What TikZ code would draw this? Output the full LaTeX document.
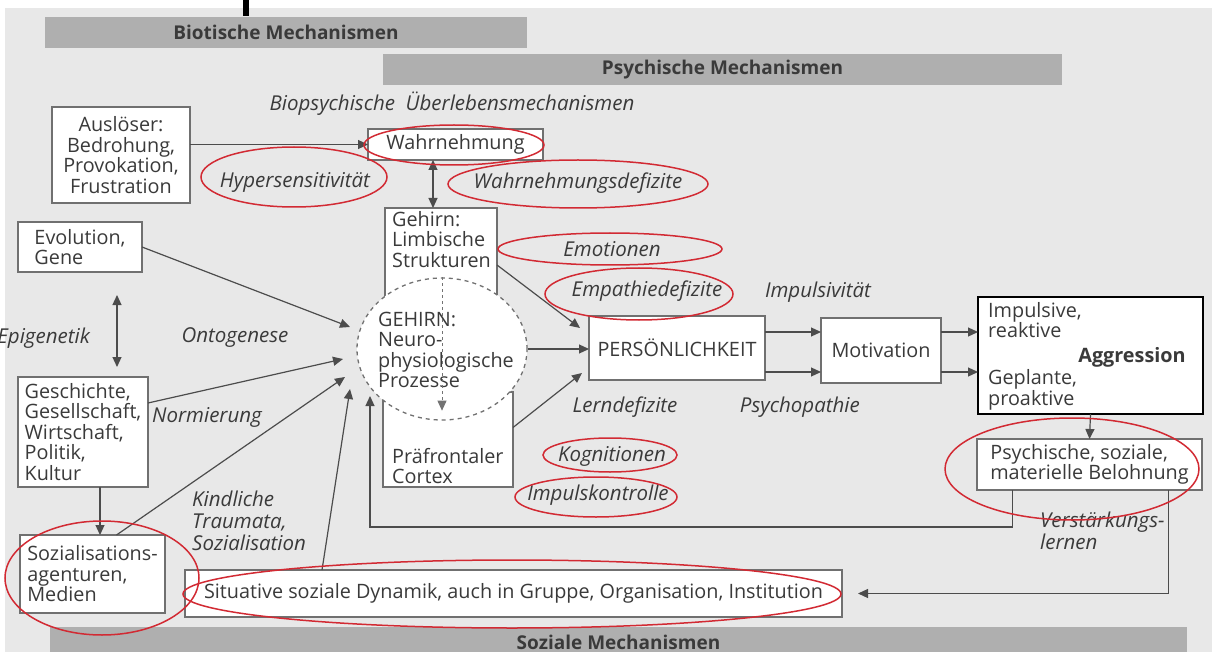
\documentclass[tikz,border=0pt]{standalone}
\usepackage{fontspec}
\setmainfont{Open Sans}
\usetikzlibrary{arrows.meta,positioning,shapes.geometric,calc}
\definecolor{bggray}{HTML}{E8E8E8}
\definecolor{bargray}{HTML}{AFAFAF}
\definecolor{boxgray}{HTML}{707070}
\definecolor{txtgray}{HTML}{3A3A3A}
\definecolor{ringred}{HTML}{D22A33}
\newcommand{\boxfont}{\fontsize{19.8}{20.5}\selectfont}
\newcommand{\labfont}{\fontsize{20.5}{22}\selectfont\itshape}
\newcommand{\barfont}{\fontsize{19}{20}\selectfont\bfseries}
\tikzset{
  box/.style   = {draw=boxgray, fill=white, line width=1.1pt, inner sep=3pt,
                  outer sep=0pt, text=txtgray, font=\boxfont},
  boxl/.style  = {box, align=left},
  txt/.style   = {inner sep=0pt, text=txtgray, font=\boxfont, align=left},
  lab/.style   = {inner sep=0pt, text=txtgray, font=\labfont, align=left},
  band/.style  = {fill=bargray, inner sep=0pt, outer sep=0pt, text=txtgray,
                  font=\barfont},
  ring/.style  = {ellipse, draw=ringred, line width=1.5pt, inner sep=0pt},
  brain/.style = {ellipse, draw=boxgray, fill=white, line width=1.3pt,
                  dash pattern=on 4pt off 4pt, inner sep=0pt},
  e/.style     = {-{Triangle[length=10pt,width=9pt]}, line width=1.2pt, draw=black!70},
  ee/.style    = {{Triangle[length=10pt,width=9pt]}-{Triangle[length=10pt,width=9pt]},
                  line width=1.2pt, draw=black!70}
}
\begin{document}
\begin{tikzpicture}[x=1pt, y=-1pt]
  \useasboundingbox (0,0) rectangle (1212,652);
  \fill[bggray] (5,8) rectangle (1212,652);
  \fill[black] (243,0) rectangle (249,16);

  % bands
  \node[band, minimum width=482pt, minimum height=31pt] (bio) at (286,32.5) {Biotische Mechanismen};
  \node[band, minimum width=679pt, minimum height=31pt] (psy) at (722.5,69.5) {Psychische Mechanismen};
  \node[band, minimum width=1137pt, minimum height=30pt] (sozial) at (618.5,642) {Soziale Mechanismen};
  \node[lab] (biopsy) at (452,104) {Biopsychische\ \ Überlebensmechanismen};

  % boxes
  \node[box, align=center, minimum width=138pt, minimum height=96pt] (aus) at (121,155)
    {Auslöser:\\Bedrohung,\\Provokation,\\Frustration};
  \node[box, minimum width=175pt, minimum height=31pt] (wahr) at (455.5,144.5) {Wahrnehmung};
  \node[box, minimum width=112pt, minimum height=92pt] (gehirn) at (441,254) {};
  \node[txt, anchor=north west] (gehirn-t) at (392,211) {Gehirn:\\Limbische\\Strukturen};
  \node[box, minimum width=130pt, minimum height=95pt] (pfc) at (448,439.5) {};
  \node[txt, anchor=south west] (pfc-t) at (392,484) {Präfrontaler\\Cortex};
  \node[boxl, minimum width=124pt, minimum height=50pt] (evo) at (80,247) {Evolution,\\Gene};
  \node[boxl, minimum width=130pt, minimum height=110pt] (ges) at (83,432)
    {Geschichte,\\Gesellschaft,\\Wirtschaft,\\Politik,\\Kultur};
  \node[boxl, minimum width=145pt, minimum height=78pt] (soz) at (92.5,574)
    {Sozialisations-\\agenturen,\\Medien};
  \node[box, minimum width=657pt, minimum height=47pt] (sit) at (513.5,593.5)
    {Situative soziale Dynamik, auch in Gruppe, Organisation, Institution};
  \node[box, minimum width=176pt, minimum height=64pt] (pers) at (677,348) {PERSÖNLICHKEIT};
  \node[box, minimum width=120pt, minimum height=65pt] (mot) at (881,350.5) {Motivation};
  \node[box, draw=black, line width=2.6pt, minimum width=225pt, minimum height=117pt] (aggr) at (1090.5,355.5) {};
  \node[txt, anchor=north west] (aggr-i) at (988,302) {Impulsive,\\reaktive};
  \node[txt, font=\boxfont\bfseries] (aggr-t) at (1132,357) {Aggression};
  \node[txt, anchor=south west] (aggr-g) at (988,410) {Geplante,\\proaktive};
  \node[boxl, minimum width=225pt, minimum height=51pt] (belo) at (1089.5,464.5)
    {Psychische, soziale,\\materielle Belohnung};

  % italic labels
  \node[lab] (hyper) at (295,182) {Hypersensitivität};
  \node[lab] (wdef) at (578,183) {Wahrnehmungsdefizite};
  \node[lab] (emo) at (612,249) {Emotionen};
  \node[lab] (empa) at (647,291) {Empathiedefizite};
  \node[lab] (impv) at (818,292) {Impulsivität};
  \node[lab, anchor=east] (epi) at (90,338) {Epigenetik};
  \node[lab] (onto) at (235,338) {Ontogenese};
  \node[lab] (norm) at (207,417) {Normierung};
  \node[lab] (lern) at (625,407) {Lerndefizite};
  \node[lab, anchor=east] (psychop) at (860,407) {Psychopathie};
  \node[lab] (kogn) at (612,456) {Kognitionen};
  \node[lab] (impk) at (598,495) {Impulskontrolle};
  \node[lab, anchor=north west] (kind) at (192,491) {Kindliche\\Traumata,\\Sozialisation};
  \node[lab, anchor=north west] (verst) at (1040,512) {Verstärkungs-\\lernen};

  % arrows
  \coordinate (in-evo) at (350,327);
  \coordinate (in-ges) at (343,359);
  \coordinate (in-soz) at (345,377);
  \coordinate (in-sit) at (350,389);
  \coordinate (in-fb) at (370,396);
  \coordinate (fb) at (370,527);
  \draw[e] (aus.east |- wahr.west) -- (wahr.west);
  \draw[ee] ([xshift=-8pt]gehirn.north |- wahr.south) -- ([xshift=-8pt]gehirn.north);
  \draw[ee, shorten <=23pt, shorten >=10pt] ([xshift=37pt]evo.south) -- ([xshift=37pt]evo.south |- ges.north);
  \draw[e] (evo.east) -- (in-evo);
  \draw[e] ([yshift=29pt]ges.east) -- (in-ges);
  \draw[e] ([xshift=17pt]ges.south) -- ([xshift=17pt]ges.south |- soz.north);
  \draw[e] ([xshift=24pt]soz.north) -- (in-soz);
  \draw[e] ([xshift=137pt]sit.north west) -- (in-sit);
  \draw[e] ([xshift=-77pt]belo.south) |- (fb) -- (in-fb);
  \draw[e, shorten >=16pt] ([xshift=79pt]belo.south) |- (sit.east);
  \draw[e] ([yshift=-11pt]gehirn.east) -- ([xshift=-9pt,yshift=-12pt]pers.north west);
  \draw[e] ([yshift=12pt]pfc.east) -- ([xshift=-7pt,yshift=7pt]pers.south west);
  \foreach \dy in {16,-24} {
    \draw[e] ([yshift=\dy pt]pers.east) -- ([yshift=\dy pt]pers.east -| mot.west);
    \draw[e] ([yshift=\dy pt]pers.east -| mot.east) -- ([yshift=\dy pt]pers.east -| aggr.west);
  }
  \draw[e] (aggr.south) -- (belo.north);

  % brain circle
  \node[brain, minimum width=170pt, minimum height=142pt] (hirn) at (442,349) {};
  \node[txt] (hirn-t) at (446,350) {GEHIRN:\\Neuro-\\physiologische\\Prozesse};
  \draw[e] (hirn.east) -- (hirn.east -| pers.west);
  \draw[e, draw=black!55, line width=0.9pt, dash pattern=on 3pt off 3pt] (hirn.north) -- ([yshift=10pt]hirn.south);

  % red rings
  \node[ring, minimum width=180pt, minimum height=40pt] (r-wahr) at (454,145) {};
  \node[ring, minimum width=186pt, minimum height=60pt] (r-hyper) at (294,177) {};
  \node[ring, minimum width=260pt, minimum height=48pt] (r-wdef) at (578,184) {};
  \node[ring, minimum width=224pt, minimum height=32pt] (r-emo) at (610,249) {};
  \node[ring, minimum width=188pt, minimum height=52pt] (r-empa) at (639,294) {};
  \node[ring, minimum width=134pt, minimum height=34pt] (r-kogn) at (610,455) {};
  \node[ring, minimum width=162pt, minimum height=40pt] (r-impk) at (596,497) {};
  \node[ring, minimum width=254pt, minimum height=102pt] (r-belo) at (1072,469) {};
  \node[ring, minimum width=194pt, minimum height=114pt] (r-soz) at (102,578) {};
  \node[ring, minimum width=658pt, minimum height=68pt] (r-sit) at (512,594) {};
\end{tikzpicture}
\end{document}
